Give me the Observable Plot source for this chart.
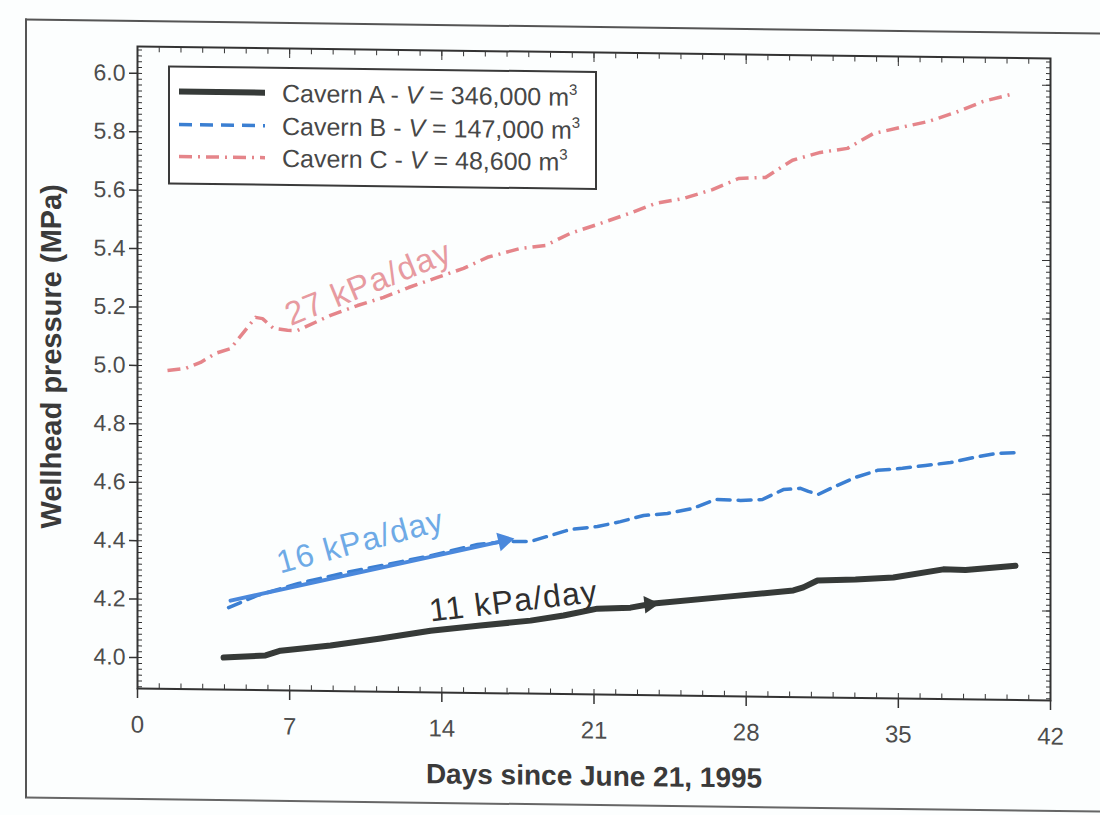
<!DOCTYPE html>
<html>
<head>
<meta charset="utf-8">
<script src="https://cdn.jsdelivr.net/npm/d3@7"></script>
<script src="https://cdn.jsdelivr.net/npm/@observablehq/plot@0.6"></script>
<style>
  html, body { margin: 0; padding: 0; background: #fcfefe; overflow: hidden; }
  #wrap { position: relative; width: 1100px; height: 815px; transform: skewY(0.75deg); transform-origin: 137px 0;
          font-family: "Liberation Sans", Arial, sans-serif; }
  #scan { position: absolute; left: 25px; top: 20px; width: 1100px; height: 780px; box-sizing: border-box;
          border-left: 2px solid #555; border-top: 2px solid #555; border-bottom: 2px solid #666; }
  #chart { position: absolute; left: 0; top: 0; }
  #legend { position: absolute; left: 168px; top: 65px; width: 429px; height: 119px; box-sizing: border-box;
            border: 2px solid #3a3a3a; background: #fff; }
  .row { position: absolute; left: 0; height: 30px; display: flex; align-items: center; white-space: nowrap; }
  .row svg { margin-left: 8px; margin-right: 16px; }
  .row span { font-size: 25px; color: #474747; }
  .row sup { font-size: 15px; vertical-align: 11px; line-height: 0; }
</style>
</head>
<body>
<div id="wrap">
  <div id="scan"></div>
  <div id="chart"></div>
  <div id="legend"></div>
</div>
<script>
// ---- data ----
const daysA  = [3.96, 5.89, 6.58, 8.88, 11.18, 13.48, 15.78, 18.08, 19.6, 21.16, 22.68, 23.74, 27.14, 30.17, 30.63, 31.28, 33.03, 34.77, 37.07, 38.09, 40.39];
const pressA = [4.004, 4.013, 4.030, 4.050, 4.076, 4.105, 4.125, 4.144, 4.163, 4.188, 4.193, 4.208, 4.235, 4.259, 4.270, 4.294, 4.299, 4.308, 4.338, 4.337, 4.354];

const daysB  = [4.19, 5.52, 7.41, 9.57, 11.5, 13.48, 15.64, 16.93, 18.08, 19.92, 21.16, 22.22, 23.28, 24.38, 25.53, 26.59, 27.74, 28.75, 29.71, 30.5, 30.86, 31.32, 31.97, 33.03, 34.04, 35.19, 36.25, 37.4, 38.45, 39.47, 40.48];
const pressB = [4.175, 4.218, 4.261, 4.300, 4.330, 4.362, 4.402, 4.414, 4.415, 4.458, 4.469, 4.487, 4.509, 4.517, 4.535, 4.567, 4.565, 4.569, 4.604, 4.609, 4.599, 4.589, 4.613, 4.649, 4.674, 4.682, 4.693, 4.704, 4.722, 4.737, 4.741];

const daysC  = [1.38, 2.21, 2.90, 3.59, 4.28, 4.88, 5.43, 5.75, 6.26, 6.90, 7.36, 8.88, 10.12, 11.32, 12.47, 13.80, 15.0, 16.1, 17.62, 18.77, 19.92, 21.3, 22.6, 23.83, 25.11, 26.45, 27.65, 28.89, 30.13, 31.41, 32.66, 33.85, 35.1, 36.39, 37.63, 38.91, 40.38];
const pressC = [4.984, 4.992, 5.013, 5.045, 5.062, 5.118, 5.170, 5.166, 5.133, 5.127, 5.127, 5.180, 5.215, 5.244, 5.279, 5.315, 5.347, 5.386, 5.418, 5.429, 5.472, 5.507, 5.542, 5.578, 5.596, 5.628, 5.667, 5.672, 5.732, 5.760, 5.775, 5.827, 5.849, 5.871, 5.903, 5.942, 5.971];

const seriesNames = ["Cavern A", "Cavern B", "Cavern C"];
const volumes     = ["346,000", "147,000", "48,600"];

// rate annotations (label, day, pressure)
const rateText  = ["27 kPa/day", "16 kPa/day", "11 kPa/day"];
const rateDay   = [10.63, 10.26, 17.3];
const ratePress = [5.291, 4.407, 4.209];

// arrows drawn on the figure (start/end in data units)
const arrowBDays  = [4.28, 16.85];
const arrowBPress = [4.199, 4.416];
const arrowADay   = [23.55];
const arrowAPress = [4.205];

const xMajor = [0, 7, 14, 21, 28, 35, 42];
const xMinor = d3.range(0, 43, 1);
const yMajor = [4.0, 4.2, 4.4, 4.6, 4.8, 5.0, 5.2, 5.4, 5.6, 5.8, 6.0];
const yMinor = d3.range(3.90, 6.09, 0.02).map(v => +v.toFixed(2));

const xTitle = "Days since June 21, 1995";
const yTitle = "Wellhead pressure (MPa)";

// ---- build tables ----
const rows = (days, press) => days.map((d, i) => ({day: d, p: press[i]}));
const A = rows(daysA, pressA), B = rows(daysB, pressB), C = rows(daysC, pressC);
const arrowB = [{x1: arrowBDays[0], y1: arrowBPress[0], x2: arrowBDays[1], y2: arrowBPress[1]}];

const colA = "#363a38", colB = "#3b7fd2", colC = "#e5858a";
const font = "Liberation Sans, Arial, sans-serif";

const chart = Plot.plot({
  width: 1100, height: 815,
  marginLeft: 137, marginRight: 50, marginTop: 46, marginBottom: 127,
  style: {background: "transparent", fontFamily: font, overflow: "visible"},
  x: {domain: [0, 42], axis: null, label: null},
  y: {domain: [3.894, 6.092], axis: null, label: null},
  marks: [
    Plot.frame({stroke: "#333", strokeWidth: 2}),
    // axes
    Plot.axisY(yMajor, {anchor: "left", tickSize: 8, tickPadding: 4, tickFormat: d => d.toFixed(1), fontSize: 23, fill: "#4d4d4d", stroke: "#333", strokeWidth: 1.5, label: null}),
    Plot.axisY(yMinor, {anchor: "left", tickSize: -5, tickFormat: () => "", stroke: "#333", label: null}),
    Plot.axisY(yMinor, {anchor: "right", tickSize: -5, tickFormat: () => "", stroke: "#333", label: null}),
    Plot.axisY(yMajor, {anchor: "right", tickSize: -9, tickFormat: () => "", stroke: "#333", label: null}),
    Plot.axisX(xMajor, {anchor: "bottom", tickSize: 10, tickPadding: 17, fontSize: 24, fill: "#4d4d4d", stroke: "#333", strokeWidth: 1.5, label: null}),
    Plot.axisX(xMinor, {anchor: "bottom", tickSize: -5, tickFormat: () => "", stroke: "#333", label: null}),
    Plot.axisX(xMinor, {anchor: "top", tickSize: -5, tickFormat: () => "", stroke: "#333", label: null}),
    Plot.axisX(xMajor, {anchor: "top", tickSize: -9, tickFormat: () => "", stroke: "#333", label: null}),
    Plot.text([xTitle], {frameAnchor: "bottom", dy: 82, fontSize: 28, fontWeight: "bold", fill: "#3a3a3a", lineAnchor: "middle"}),
    Plot.text([yTitle], {frameAnchor: "left", textAnchor: "middle", dx: -86, dy: -10, rotate: -90, fontSize: 29, fontWeight: "bold", fill: "#3a3a3a", lineAnchor: "middle"}),
    // series
    Plot.line(C, {x: "day", y: "p", stroke: colC, strokeWidth: 3.5, strokeDasharray: "13,6,2,6", strokeLinecap: "butt"}),
    Plot.line(B, {x: "day", y: "p", stroke: colB, strokeWidth: 3.5, strokeDasharray: "13,8"}),
    Plot.line(A, {x: "day", y: "p", stroke: colA, strokeWidth: 6, strokeLinejoin: "round", strokeLinecap: "round"}),
    // arrows
    Plot.link(arrowB, {x1: "x1", y1: "y1", x2: "x2", y2: "y2", stroke: "#4a88dc", strokeWidth: 4, strokeLinecap: "round"}),
    Plot.dot(arrowB, {x: "x2", y: "y2", symbol: "triangle", r: 7, fill: "#4a88dc", stroke: "none", rotate: 76.7}),
    Plot.dot(arrowADay.map((d, i) => ({day: d, p: arrowAPress[i]})), {x: "day", y: "p", symbol: "triangle", r: 6.5, fill: colA, stroke: "none", rotate: 84}),
    // rate labels
    Plot.text([0], {x: () => rateDay[0], y: () => ratePress[0], text: () => rateText[0], rotate: -22.5, fontSize: 33, fill: "#e79aa0", lineAnchor: "middle"}),
    Plot.text([1], {x: () => rateDay[1], y: () => ratePress[1], text: () => rateText[1], rotate: -15.5, fontSize: 32, fill: "#6eaae6", lineAnchor: "middle"}),
    Plot.text([2], {x: () => rateDay[2], y: () => ratePress[2], text: () => rateText[2], rotate: -7.5, fontSize: 32, fill: "#2f2f2f", lineAnchor: "middle"})
  ]
});
document.getElementById("chart").appendChild(chart);
d3.select(chart).selectAll("text").filter(function() { return /kPa\/day/.test(this.textContent); }).attr("letter-spacing", 1.2);

// ---- legend ----
const legend = document.getElementById("legend");
const styles = [
  {stroke: colA, width: 6, dash: null},
  {stroke: colB, width: 3.5, dash: "13,8"},
  {stroke: colC, width: 3.5, dash: "13,6,2,6"}
];
const centers = [24, 57, 89];
seriesNames.forEach((name, i) => {
  const row = document.createElement("div");
  row.className = "row";
  row.style.top = (centers[i] - 15) + "px";
  const s = styles[i];
  row.innerHTML =
    `<svg width="88" height="12"><line x1="1" y1="6" x2="87" y2="6" stroke="${s.stroke}" stroke-width="${s.width}" ${s.dash ? `stroke-dasharray="${s.dash}"` : ""}/></svg>` +
    `<span>${name} - <i>V</i> = ${volumes[i]} m<sup>3</sup></span>`;
  legend.appendChild(row);
});
</script>
</body>
</html>
